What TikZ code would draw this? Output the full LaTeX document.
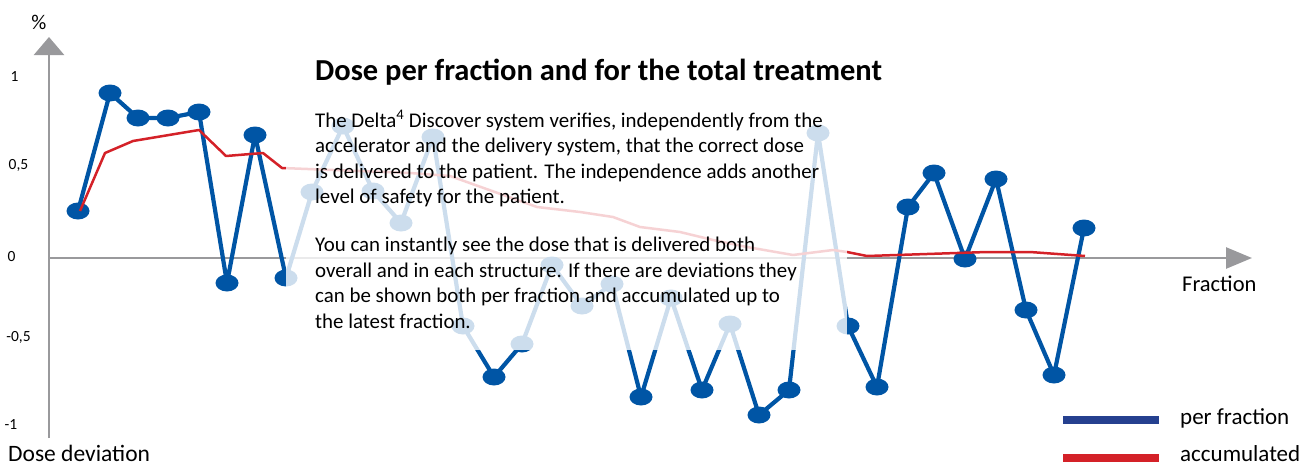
\documentclass[tikz,border=0pt]{standalone}
\usepackage{fontspec}
\setmainfont{Carlito}
\usetikzlibrary{arrows.meta,shapes.geometric}

\definecolor{perfrac}{RGB}{0,85,165}
\definecolor{legblue}{RGB}{37,64,143}
\definecolor{accum}{RGB}{212,33,40}
\definecolor{axisgray}{RGB}{153,153,156}

\tikzset{
  axisline/.style={line width=2.6pt, axisgray},
  dot/.style={ellipse, fill=perfrac, minimum width=23pt, minimum height=17pt, inner sep=0},
  ticklab/.style={inner sep=0, font=\fontsize{15.5}{15.5}\selectfont},
  axislab/.style={inner sep=0, font=\fontsize{23}{23}\selectfont},
}

\begin{document}
\begin{tikzpicture}[x=1pt, y=-1pt]
\useasboundingbox (0,0) rectangle (1315,466);
% axes
\coordinate (O) at (49,258);
\coordinate (ytop) at (49,37);
\coordinate (ybot) at (49,438);
\coordinate (xend) at (1252,258);
\draw[axisline, -{Triangle[length=18pt,width=30pt]}] (ybot) -- (ytop);
\draw[axisline, -{Triangle[length=26pt,width=21pt]}] (O) -- (xend);
\node[ticklab, font=\fontsize{21}{21}\selectfont] (pct) at (39,22) {\%};
\node[ticklab] (t1) at (14.5,77) {1};
\node[ticklab] (t05) at (18.5,165) {0,5};
\node[ticklab] (t0) at (11.5,257) {0};
\node[ticklab] (tm05) at (18.5,337) {-0,5};
\node[ticklab] (tm1) at (11,425) {-1};
\node[axislab, font=\fontsize{23.5}{23.5}\selectfont, anchor=base west] (ylab) at (8,461) {Dose deviation};
\node[axislab, font=\fontsize{22.5}{22.5}\selectfont, anchor=west] (xlab) at (1182,284) {Fraction};

% per fraction
\foreach \x/\y [count=\i] in {78/211, 110/93, 138/118, 168/118, 199/112, 227/283, 255/135,
    286/278, 312/192, 343/126, 373/191, 401/223, 433/137, 463/326, 494/377, 522/344,
    552/265, 582/306, 612/284, 641/397, 671/298, 702/390, 730/324, 759/415, 789/390,
    818/133, 848/326, 877/387, 908/207, 934/173, 965/259, 996/179, 1026/310, 1054/375,
    1084/228}
  \coordinate (p\i) at (\x,\y);
\draw[perfrac, line width=4.2pt, line join=round] (p1) \foreach \i in {2,...,35} { -- (p\i) };
\foreach \i in {1,...,35} \node[dot] (m\i) at (p\i) {};

% accumulated
\foreach \x/\y [count=\i] in {80/211, 105/153, 133/141, 199/130, 226/156, 263/153, 282/168,
    410/173, 450/176, 537/207, 580/212, 613/217, 640/227, 680/232, 713/240, 747/247,
    793/255, 833/250, 847/252, 867/256, 987/252, 1030/252, 1085/256}
  \coordinate (a\i) at (\x,\y);
\draw[accum, line width=2.5pt, line join=round] (a1) \foreach \i in {2,...,23} { -- (a\i) };

% fade behind the text
\fill[white, opacity=0.8] (286,30) rectangle (847,350);

\node[anchor=base west, inner sep=0, font=\bfseries\fontsize{30.5}{30.5}\selectfont] (title) at (315,80)
  {Dose per fraction and for the total treatment};
\node[anchor=north west, inner sep=0, align=left, font=\fontsize{20.9}{25.5}\selectfont] (body) at (315,110)
  {The Delta\textsuperscript{4} Discover system verifies, independently from the\\
   accelerator and the delivery system, that the correct dose\\
   is delivered to the patient. The independence adds another\\
   level of safety for the patient.\\[22.5pt]
   You can instantly see the dose that is delivered both\\
   overall and in each structure. If there are deviations they\\
   can be shown both per fraction and accumulated up to\\
   the latest fraction.};

% legend
\coordinate (lb1) at (1063,420);
\coordinate (lb2) at (1159,420);
\coordinate (lr1) at (1063,458);
\coordinate (lr2) at (1159,458);
\draw[legblue, line width=8pt] (lb1) -- (lb2);
\draw[accum, line width=8pt] (lr1) -- (lr2);
\node[axislab, anchor=base west] (lgb) at (1180,424) {per fraction};
\node[axislab, anchor=base west] (lgr) at (1180,461) {accumulated};
\end{tikzpicture}
\end{document}
